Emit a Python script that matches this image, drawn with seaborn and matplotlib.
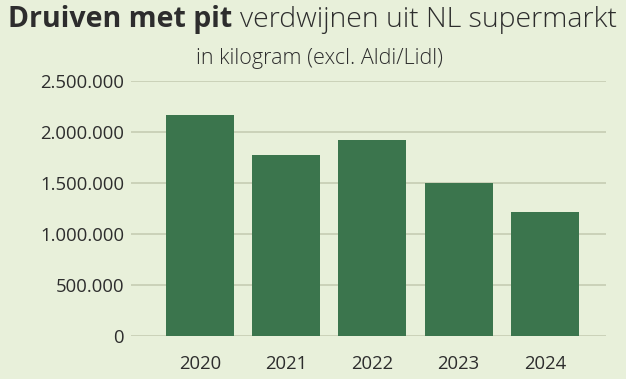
import matplotlib
matplotlib.use('Agg')
import matplotlib.pyplot as plt
import seaborn as sns
import pandas as pd
from matplotlib.ticker import FuncFormatter

# data
years = ['2020', '2021', '2022', '2023', '2024']
kilos = [2165000, 1775000, 1920000, 1503000, 1212000]
y_ticks = [0, 500000, 1000000, 1500000, 2000000, 2500000]

bg = '#e8f0da'
bar_col = '#3b754d'
grid_col = '#c8cfb6'
txt_col = '#2d2d2d'

sns.set_theme(style='white')
plt.rcParams['font.family'] = ['Open Sans', 'DejaVu Sans']

df = pd.DataFrame({'jaar': years, 'kg': kilos})

W, H = 626, 379
fig = plt.figure(figsize=(W / 100, H / 100), dpi=100, facecolor=bg)
# axes: zero line at y=336 px, 500k per 51 px
top_px = 336 - 51.0 * 5
ax = fig.add_axes([131 / W, (H - 336) / H, (606 - 131) / W, (336 - top_px) / H])
ax.set_facecolor(bg)

sns.barplot(data=df, x='jaar', y='kg', color=bar_col, saturation=1, width=0.79,
            linewidth=0, ax=ax, zorder=3)

ax.set_ylim(0, 2500000)
ax.set_xlim(-0.8, 4.71)
ax.set_yticks(y_ticks)
ax.yaxis.set_major_formatter(FuncFormatter(lambda v, p: f'{int(v):,}'.replace(',', '.')))
ax.yaxis.grid(True, color=grid_col, lw=1.3, zorder=0)
ax.xaxis.grid(False)
for s in ax.spines.values():
    s.set_visible(False)
ax.tick_params(axis='y', length=0, pad=5, labelsize=13.3, labelcolor=txt_col)
ax.tick_params(axis='x', length=0, pad=14, labelsize=13.3, labelcolor=txt_col)
ax.set_xlabel('')
ax.set_ylabel('')

# title in two weights
fig.text(232 / W, 1 - 27 / H, 'Druiven met pit', ha='right', va='baseline',
         fontsize=20.5, fontweight='bold', color=txt_col)
fig.text(240 / W, 1 - 27 / H, 'verdwijnen uit NL supermarkt', ha='left', va='baseline',
         fontsize=20.5, fontweight='light', color=txt_col)
fig.text(320 / W, 1 - 64 / H, 'in kilogram (excl. Aldi/Lidl)', ha='center', va='baseline',
         fontsize=15.5, fontweight='light', color=txt_col)

fig.savefig('out.png', dpi=100, facecolor=bg)
